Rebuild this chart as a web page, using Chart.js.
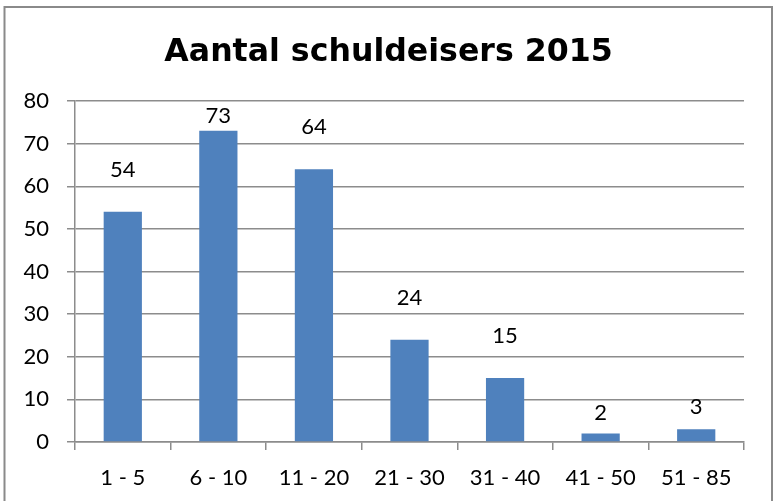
<!DOCTYPE html>
<html>
<head>
<meta charset="utf-8">
<script src="https://cdn.jsdelivr.net/npm/chart.js@4.4.1/dist/chart.umd.min.js"></script>
<style>
  html, body { margin: 0; padding: 0; background: #fff; }
  #wrap { position: relative; width: 777px; height: 501px; }
</style>
</head>
<body>
<div id="wrap"><canvas id="c" width="777" height="501"></canvas></div>
<script>
const chartTitle = 'Aantal schuldeisers 2015';
const categories = ['1 - 5', '6 - 10', '11 - 20', '21 - 30', '31 - 40', '41 - 50', '51 - 85'];
const counts = [54, 73, 64, 24, 15, 2, 3];
const yTicks = [0, 10, 20, 30, 40, 50, 60, 70, 80];

const tickFont = { family: 'Lato', size: 22 };
const titleFont = 'bold 31.6px "DejaVu Sans"';
const gridColor = '#8c8c8c';

const frame = {
  id: 'frame',
  beforeDraw(chart) {
    const ctx = chart.ctx;
    ctx.save();
    ctx.fillStyle = '#fff';
    ctx.fillRect(0, 0, chart.width, chart.height);
    ctx.strokeStyle = '#8a8a8a';
    ctx.lineWidth = 2;
    ctx.strokeRect(4.5, 7, 767.5, 600);
    ctx.restore();
  },
  afterDraw(chart) {
    const ctx = chart.ctx;
    ctx.save();
    ctx.font = titleFont;
    ctx.fillStyle = '#000';
    ctx.textAlign = 'center';
    ctx.textBaseline = 'alphabetic';
    ctx.fillText(chartTitle, chart.width / 2, 61);
    ctx.restore();
  }
};

const valueLabels = {
  id: 'valueLabels',
  afterDatasetsDraw(chart) {
    const ctx = chart.ctx;
    const meta = chart.getDatasetMeta(0);
    const area = chart.chartArea;
    const base = chart.scales.y.getPixelForValue(0);
    ctx.save();
    ctx.font = tickFont.size + 'px ' + tickFont.family;
    ctx.fillStyle = '#000';
    ctx.textAlign = 'center';
    ctx.textBaseline = 'middle';
    meta.data.forEach((bar, i) => {
      const h = base - bar.y;
      const off = Math.min(42, 17 + h * 0.4);
      const y = Math.max(bar.y - off, area.top + 15);
      ctx.fillText(String(counts[i]), bar.x, y);
    });
    ctx.restore();
  }
};

function draw() {
  new Chart(document.getElementById('c'), {
    type: 'bar',
    data: {
      labels: categories,
      datasets: [{
        data: counts,
        backgroundColor: '#4f81bd',
        borderWidth: 0,
        barPercentage: 0.4,
        categoryPercentage: 1.0
      }]
    },
    options: {
      responsive: false,
      animation: false,
      events: [],
      layout: { padding: { left: 0, right: 33, top: 101, bottom: 0 } },
      plugins: {
        legend: { display: false },
        tooltip: { enabled: false },
        title: { display: false }
      },
      scales: {
        x: {
          grid: { display: true, drawOnChartArea: false, drawTicks: true, tickLength: 8, color: gridColor, lineWidth: 1.5, offset: true },
          border: { display: true, color: gridColor, width: 1.5 },
          ticks: { color: '#000', font: tickFont, padding: 15, maxRotation: 0, autoSkip: false },
          afterFit(scale) { scale.height = 59; }
        },
        y: {
          min: 0,
          max: 80,
          afterBuildTicks(scale) { scale.ticks = yTicks.map(v => ({ value: v })); },
          grid: { color: gridColor, lineWidth: 1.5, tickLength: 8, drawTicks: true },
          border: { display: true, color: gridColor, width: 1.5 },
          ticks: { color: '#000', font: tickFont, padding: 18 },
          afterFit(scale) { scale.width = 75; }
        }
      }
    },
    plugins: [frame, valueLabels]
  });
}

Promise.all([
  document.fonts.load('22px Lato'),
  document.fonts.load('bold 31.6px "DejaVu Sans"')
]).then(draw, draw);
</script>
</body>
</html>
